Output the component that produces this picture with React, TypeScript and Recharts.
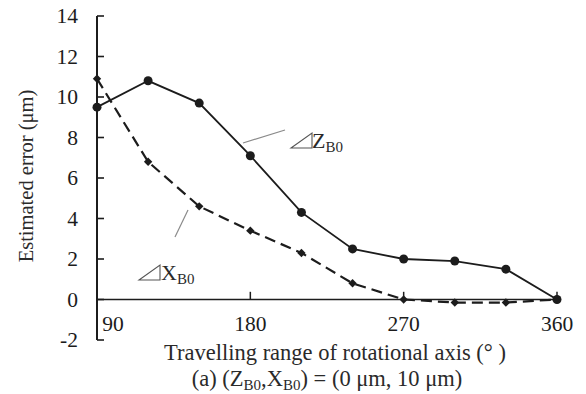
import React from "react";
import { LineChart, Line, XAxis, YAxis, ReferenceLine } from "recharts";

// travelling range (deg) and estimated errors (um)
const angles = [90, 120, 150, 180, 210, 240, 270, 300, 330, 360];
const zB0 = [9.5, 10.8, 9.7, 7.1, 4.3, 2.5, 2.0, 1.9, 1.5, 0];
const xB0 = [10.9, 6.8, 4.6, 3.4, 2.3, 0.8, 0, -0.15, -0.15, 0];
const xTicks = [90, 180, 270, 360];
const yTicks = [-2, 0, 2, 4, 6, 8, 10, 12, 14];

const data = angles.map((a, i) => ({ angle: a, z: zB0[i], x: xB0[i] }));

const FONT = "'Liberation Serif', 'Times New Roman', serif";
const INK = "#1c1c1c";

function YTick({ x, y, payload }: any) {
  return (
    <g>
      <line x1={x} y1={y} x2={x + 7} y2={y} stroke={INK} strokeWidth={1.6} />
      <text
        x={x - 19}
        y={y}
        textAnchor="end"
        dominantBaseline="central"
        fontFamily={FONT}
        fontSize={21.5}
        fill={INK}
      >
        {payload.value}
      </text>
    </g>
  );
}

function XTick({ x, y, payload }: any) {
  const shift = payload.value === 90 ? 16 : 0;
  return (
    <text
      x={x + shift}
      y={y - 9}
      textAnchor="middle"
      fontFamily={FONT}
      fontSize={21.5}
      fill={INK}
    >
      {payload.value}
    </text>
  );
}

function Diamond({ cx, cy }: any) {
  if (cx == null || cy == null) return null;
  const r = 4.2;
  return (
    <path
      d={`M${cx},${cy - r}L${cx + r},${cy}L${cx},${cy + r}L${cx - r},${cy}Z`}
      fill={INK}
    />
  );
}

// outlined right-triangle symbol used in the series names
function Tri({ x, y }: { x: number; y: number }) {
  return (
    <path
      d={`M${x},${y}L${x + 21},${y}L${x + 21},${y - 15}Z`}
      fill="none"
      stroke="#555"
      strokeWidth={1.1}
    />
  );
}

export default function App() {
  return (
    <div style={{ position: "absolute", left: 0, top: 0, width: 586, height: 394, background: "#fff" }}>
      <LineChart
        width={586}
        height={394}
        data={data}
        margin={{ top: 16, right: 29, bottom: 24, left: 0 }}
      >
        <XAxis
          dataKey="angle"
          type="number"
          domain={[90, 360]}
          ticks={xTicks}
          axisLine={false}
          tickLine={false}
          tickSize={0}
          tickMargin={0}
          height={30}
          tick={<XTick />}
        />
        <YAxis
          type="number"
          domain={[-2, 14]}
          ticks={yTicks}
          width={97}
          axisLine={{ stroke: INK, strokeWidth: 2 }}
          tickLine={false}
          tickSize={0}
          tickMargin={0}
          tick={<YTick />}
        />
        <ReferenceLine y={0} stroke={INK} strokeWidth={1.5} />
        {xTicks.slice(1).map((t) => (
          <ReferenceLine
            key={t}
            segment={[
              { x: t, y: 0 },
              { x: t, y: 0.38 },
            ]}
            stroke={INK}
            strokeWidth={1.5}
          />
        ))}
        <Line
          dataKey="x"
          stroke={INK}
          strokeWidth={2.2}
          strokeDasharray="11 6"
          dot={<Diamond />}
          isAnimationActive={false}
        />
        <Line
          dataKey="z"
          stroke={INK}
          strokeWidth={1.8}
          dot={{ r: 4.5, fill: INK, stroke: INK, strokeWidth: 0 }}
          isAnimationActive={false}
        />
      </LineChart>
      <svg
        width={586}
        height={394}
        style={{ position: "absolute", left: 0, top: 0, pointerEvents: "none" }}
        fontFamily={FONT}
        fill="#2a2a2a"
      >
        <text
          x={26}
          y={176}
          transform="rotate(-90, 26, 176)"
          textAnchor="middle"
          dominantBaseline="central"
          fontSize={20.5}
        >
          Estimated error (μm)
        </text>
        <text x={335} y={360} textAnchor="middle" fontSize={22.5}>
          Travelling range of rotational axis (° )
        </text>
        <text x={327} y={386} textAnchor="middle" fontSize={22.5}>
          (a) (Z<tspan fontSize={15} dy={4}>B0</tspan>
          <tspan dy={-4}>,X</tspan>
          <tspan fontSize={15} dy={4}>B0</tspan>
          <tspan dy={-4}>) = (0 μm, 10 μm)</tspan>
        </text>
        <line x1={243} y1={143} x2={285} y2={130} stroke="#8a8a8a" strokeWidth={1.2} />
        <Tri x={291} y={148} />
        <text x={312} y={148} fontSize={22}>
          Z<tspan fontSize={15} dy={4}>B0</tspan>
        </text>
        <line x1={188} y1={210} x2={175} y2={237} stroke="#8a8a8a" strokeWidth={1.2} />
        <Tri x={139} y={280} />
        <text x={161} y={280} fontSize={22}>
          X<tspan fontSize={15} dy={4}>B0</tspan>
        </text>
      </svg>
    </div>
  );
}
